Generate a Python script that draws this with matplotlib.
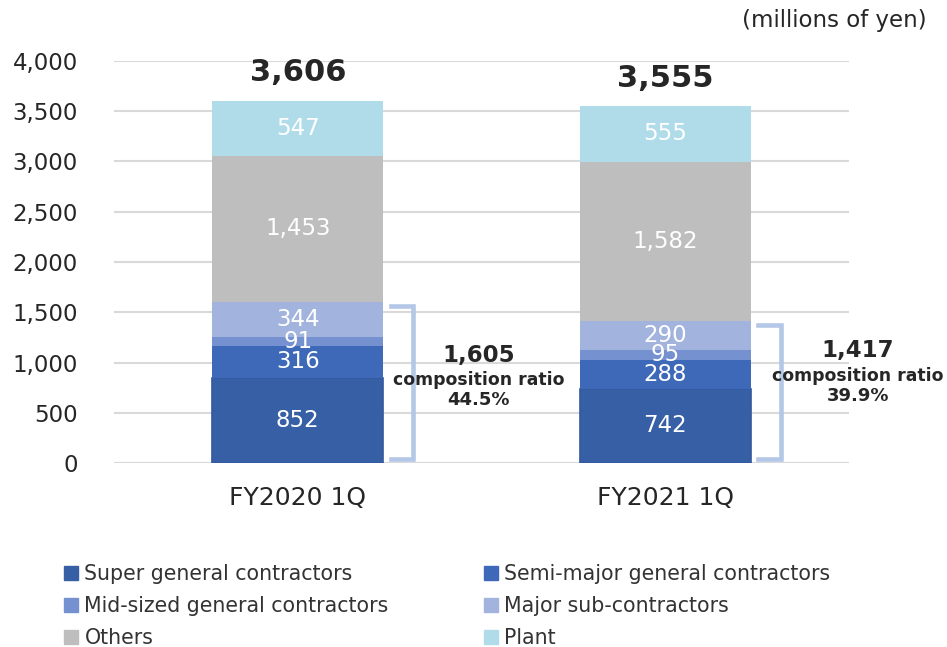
import numpy as np
import matplotlib.pyplot as plt
from matplotlib.patches import Patch

categories = ['FY2020 1Q', 'FY2021 1Q']
series_names = ['Super general contractors', 'Semi-major general contractors',
                'Mid-sized general contractors', 'Major sub-contractors',
                'Others', 'Plant']
super_gc = [852, 742]
semi_major = [316, 288]
mid_sized = [91, 95]
major_sub = [344, 290]
others = [1453, 1582]
plant = [547, 555]
totals = [3606, 3555]
sub_totals = [1605, 1417]
ratios = ['44.5%', '39.9%']

series = [super_gc, semi_major, mid_sized, major_sub, others, plant]
colors = ['#375fa5', '#3e69b8', '#7591cf', '#a2b4de', '#bebebe', '#b0dcea']
text_col = '#262626'

fig = plt.figure(figsize=(9.47, 6.47), dpi=100)
ax = fig.add_axes([0.1204, 0.2839, 0.7761, 0.6223])

x = np.arange(len(categories))
width = 0.465
bottom = np.zeros(len(categories))
for i, (vals, col) in enumerate(zip(series, colors)):
    vals = np.array(vals)
    if i == 0:
        ax.bar(x, vals, width, bottom=bottom, color=col, edgecolor='#3459a0',
               lw=1.2, zorder=3)
    else:
        ax.bar(x, vals, width, bottom=bottom, color=col, zorder=3)
    for xi, b, v in zip(x, bottom, vals):
        ax.text(xi, b + v / 2, f'{v:,}', ha='center', va='center',
                color='white', fontsize=16.5, zorder=4)
    bottom = bottom + vals

for xi, t, top in zip(x, totals, bottom):
    ax.annotate(f'{t:,}', (xi, top), xytext=(0, 20), textcoords='offset points',
                ha='center', va='center', fontsize=22, fontweight='bold',
                color=text_col)

# brackets for the general-contractor subtotal
bc = '#b4c7e7'
label_dx = [0.492, 0.525]
label_y = [1076, 1117]
for xi, s, r, dx, ly in zip(x, sub_totals, ratios, label_dx, label_y):
    x0 = xi + width / 2 + 0.02
    x1 = xi + width / 2 + 0.082
    ax.plot([x0, x1, x1, x0], [s - 45, s - 45, 45, 45], color=bc, lw=3.3,
            solid_joinstyle='miter', clip_on=False, zorder=3)
    xt = xi + dx
    ax.text(xt, ly, f'{s:,}', ha='center', va='center', fontsize=16.5,
            fontweight='bold', color=text_col, clip_on=False)
    ax.text(xt, ly - 250, 'composition ratio', ha='center', va='center',
            fontsize=12.4, fontweight='bold', color=text_col, clip_on=False)
    ax.text(xt, ly - 450, r, ha='center', va='center', fontsize=13,
            fontweight='bold', color=text_col, clip_on=False)

ax.set_xlim(-0.5, 1.5)
ax.set_ylim(0, 4000)
ax.set_yticks(np.arange(0, 4001, 500))
ax.set_yticklabels([f'{v:,}' for v in range(0, 4001, 500)])
ax.set_xticks(x)
ax.set_xticklabels(categories)
ax.tick_params(length=0, colors=text_col)
ax.tick_params(axis='y', labelsize=16.5, pad=26)
ax.tick_params(axis='x', labelsize=18, pad=16)
ax.grid(axis='y', color='#d9d9d9', lw=1.5, zorder=0)
for sp in ax.spines.values():
    sp.set_visible(False)
ax.axhline(0, color='#d9d9d9', lw=1.5, zorder=2)

fig.text(0.979, 0.969, '(millions of yen)', ha='right', va='center',
         fontsize=16.5, color=text_col)

# legend: two columns placed separately
for col_idx, x_anchor in zip([[0, 2, 4], [1, 3, 5]], [0.0675, 0.511]):
    handles = [Patch(color=colors[i]) for i in col_idx]
    labels = [series_names[i] for i in col_idx]
    fig.legend(handles, labels, loc='upper left', bbox_to_anchor=(x_anchor, 0.128),
               frameon=False, fontsize=14.8, handlelength=0.7, handleheight=0.7,
               handletextpad=0.3, labelspacing=0.58, labelcolor='#333333',
               borderaxespad=0, borderpad=0)

fig.savefig('out.png', dpi=100)
